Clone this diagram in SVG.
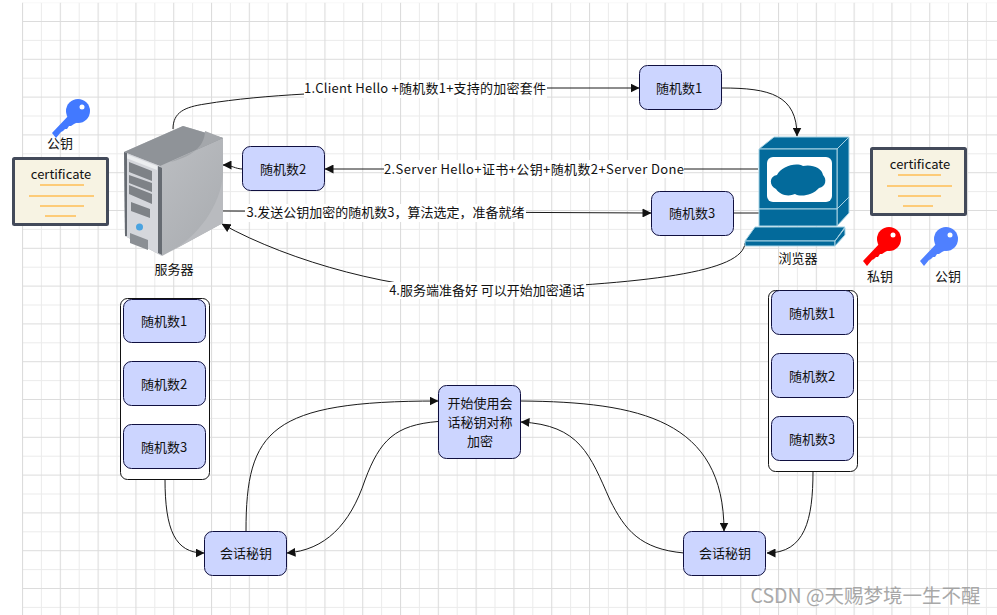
<svg xmlns="http://www.w3.org/2000/svg" width="997" height="615" viewBox="0 0 997 615">
<style>
text{font-family:"Noto Sans CJK SC","Noto Sans",sans-serif;font-size:13px;fill:#111;text-anchor:middle}
.box{fill:#ccd5ff;stroke:#101040;stroke-width:1}
.con{fill:none;stroke:#1a1a1a;stroke-width:1;}
.arr{marker-end:url(#a)}
.lab{fill:#fff}
.cf{fill:#f7f3e3;stroke:#434a5a;stroke-width:3}
.ln{stroke:#ffbe55;stroke-width:1.6}
.b{fill:#036a9b;stroke:#a9d3e4;stroke-width:1}
</style>
<defs>
<pattern id="g" width="37.8" height="37.8" patternUnits="userSpaceOnUse" x="22" y="21">
<path d="M19.4 0V37.8M0 19.4H37.8" stroke="#ebebeb" fill="none"/>
<path d="M.5 0V37.8M0 .5H37.8" stroke="#dcdcdc" stroke-width="1.2" fill="none"/>
</pattern>
<linearGradient id="sv" x1="0" y1="0" x2="1" y2="1"><stop offset="0" stop-color="#c2c4c8"/><stop offset="1" stop-color="#a8abaf"/></linearGradient>
<marker id="a" viewBox="0 0 9 9" refX="8.500" refY="4.500" markerWidth="9" markerHeight="9" orient="auto" markerUnits="userSpaceOnUse"><path d="M0 0L9 4.500L0 9Z" fill="#111"/></marker>
<g id="key"><path d="M-21 22L-3 3L6 10L3 12L1 13L-2 15L-4 15L-6 18L-8 18L-10 20L-12 21L-17 27Z"/><circle cx="5" cy="0" r="12"/><circle cx="9" cy="-4" r="2.500" fill="#fff"/></g>
</defs>
<rect width="997" height="615" fill="#fff"/>
<rect x="22" y="2.700" width="975" height="613" fill="url(#g)"/>
<g id="connectors">
<path class="con arr" d="M173 129C173 112 185 107 205 104C235 99 270 96 305 94L546 88H639"/>
<path class="con arr" d="M722 88C770 88 797 95 797 136"/>
<path class="con arr" d="M758 169L325 169"/>
<path class="con arr" d="M243 169C235 169 232 165 223 165"/>
<path class="con arr" d="M223 211L651 213"/>
<path class="con" d="M734 213L760 213"/>
<path class="con arr" d="M745 243C743 272 650 284 480 290C400 292 290 262 222 224"/>
<path class="con arr" d="M165 479C165 530 175 553 204 553"/>
<path class="con arr" d="M813 471C813 520 805 553 767 553"/>
<path class="con arr" d="M246 531C246 430 270 401 438 401"/>
<path class="con arr" d="M438 421.500C395 425 380 440 365 480C350 525 325 550 287 553"/>
<path class="con arr" d="M521 401C640 402 724 420 724 531"/>
<path class="con arr" d="M684 553C640 549 625 530 610 500C590 455 580 425 521 422"/>
<rect class="lab" x="304" y="80" width="243" height="18"/>
<rect class="lab" x="384" y="160" width="300" height="18"/>
<rect class="lab" x="245" y="204" width="281" height="18"/>
<rect class="lab" x="388" y="282" width="198" height="17"/>
<text x="425" y="93" textLength="242" lengthAdjust="spacing">1.Client Hello +随机数1+支持的加密套件</text>
<text x="534" y="174" textLength="300" lengthAdjust="spacing">2.Server Hello+证书+公钥+随机数2+Server Done</text>
<text x="385.500" y="217">3.发送公钥加密的随机数3，算法选定，准备就绪</text>
<text x="487" y="295">4.服务端准备好 可以开始加密通话</text>
</g>
<g id="server">
<path d="M124 152L183 126L223 138V223L162 256L125 236Z" fill="url(#sv)"/>
<path d="M124 152L183 126L223 138L160 166Z" fill="#8f9398"/>
<path d="M205 131L223 138L170 162C188 158 205 148 205 131Z" fill="#a4a7ab"/>
<path d="M223 175V223L170 252C200 235 220 205 223 175Z" fill="#b9bbbf"/>
<path d="M124 152L160 166L162 256L125 236Z" fill="#d5d7dc"/>
<path d="M126 154L157 166V170L126 158Z" fill="#eceef0"/>
<path d="M124 152L127 153V236L125 236Z" fill="#666b72"/>
<path d="M158 166L162 168V255L158 253Z" fill="#666b72"/>
<path d="M129 162L152 171V181L129 172ZM129 175L152 183V192L129 183ZM129 185L152 194V204L129 194ZM131 202L150 209V218L131 211Z" fill="#7e8287"/>
<circle cx="139.500" cy="227" r="3.500" fill="#4aa3e0"/>
<path d="M130 233L148 240V250L130 243Z" fill="#8b8f94"/>
<text x="174" y="274">服务器</text>
</g>
<g id="browser">
<path class="b" d="M759 149L774 137H849L837 149Z"/>
<path class="b" d="M837 149L849 137V213L837 226Z"/>
<path class="b" d="M759 149H837V209H759Z"/>
<path class="b" d="M759 209H837V226H759Z"/>
<path class="b" d="M837 209L849 197"/>
<path class="b" d="M755 227H845L835 241H745Z"/>
<path class="b" d="M745 241H835V246H745Z"/>
<path class="b" d="M835 241L845 228V235L835 246Z"/>
<rect x="767" y="157" width="65" height="45" rx="6" fill="#fff"/>
<path d="M776 189C769 186 769 176 777 175C781 167 795 162 803 166C812 164 822 168 823 175C827 179 826 187 819 188C812 196 800 197 795 194C788 197 780 195 776 189Z" fill="#036a9b"/>
<text x="798" y="263">浏览器</text>
</g>
<g id="cert-left"><rect class="cf" x="13.500" y="158.500" width="94" height="66" rx="1"/><text x="61" y="179">certificate</text><path class="ln" d="M40 185H84M29 196H94M40 206H84M45 216H76"/></g>
<g id="cert-right"><rect class="cf" x="871.500" y="148.500" width="94" height="66" rx="1"/><text x="920" y="169">certificate</text><path class="ln" d="M898 175H941M887 186H952M898 196H941M903 206H933"/></g>
<g id="key-top"><use href="#key" x="73" y="111" fill="#4279ff"/><text x="60" y="148">公钥</text></g>
<g id="key-red"><use href="#key" x="884" y="239" fill="#f00"/><text x="880" y="281">私钥</text></g>
<g id="key-blue"><use href="#key" x="941" y="239" fill="#4f80ff"/><text x="948" y="281">公钥</text></g>
<g id="stack-left"><rect x="120.500" y="298.500" width="89" height="181" rx="7" fill="#fff" stroke="#111"/>
<rect class="box" x="123.500" y="299.500" width="82" height="43" rx="8"/><text x="164" y="326">随机数1</text>
<rect class="box" x="123.500" y="361.500" width="82" height="44" rx="8"/><text x="164" y="389">随机数2</text>
<rect class="box" x="123.500" y="424.500" width="82" height="44" rx="8"/><text x="164" y="452">随机数3</text></g>
<g id="stack-right"><rect x="768.500" y="290.500" width="89" height="181" rx="7" fill="#fff" stroke="#111"/>
<rect class="box" x="771.500" y="290.500" width="82" height="44" rx="8"/><text x="812" y="318">随机数1</text>
<rect class="box" x="771.500" y="353.500" width="82" height="44" rx="8"/><text x="812" y="381">随机数2</text>
<rect class="box" x="771.500" y="416.500" width="82" height="44" rx="8"/><text x="812" y="444">随机数3</text></g>
<g id="r1"><rect class="box" x="639.500" y="65.500" width="82" height="44" rx="8"/><text x="679" y="93">随机数1</text></g>
<g id="r2"><rect class="box" x="242.500" y="146.500" width="82" height="44" rx="8"/><text x="283" y="174">随机数2</text></g>
<g id="r3"><rect class="box" x="651.500" y="191.500" width="82" height="44" rx="8"/><text x="692" y="218">随机数3</text></g>
<g id="center"><rect class="box" x="438.500" y="385.500" width="82" height="73" rx="8"/><text x="480" y="408">开始使用会</text><text x="480" y="427">话秘钥对称</text><text x="480" y="446">加密</text></g>
<g id="sk-left"><rect class="box" x="204.500" y="531.500" width="82" height="44" rx="8"/><text x="246" y="558">会话秘钥</text></g>
<g id="sk-right"><rect class="box" x="683.500" y="531.500" width="82" height="44" rx="8"/><text x="725" y="558">会话秘钥</text></g>
<text x="865.500" y="603" style="font-size:19.500px;fill:#9a9a9a;opacity:.85">CSDN @天赐梦境一生不醒</text>
</svg>
